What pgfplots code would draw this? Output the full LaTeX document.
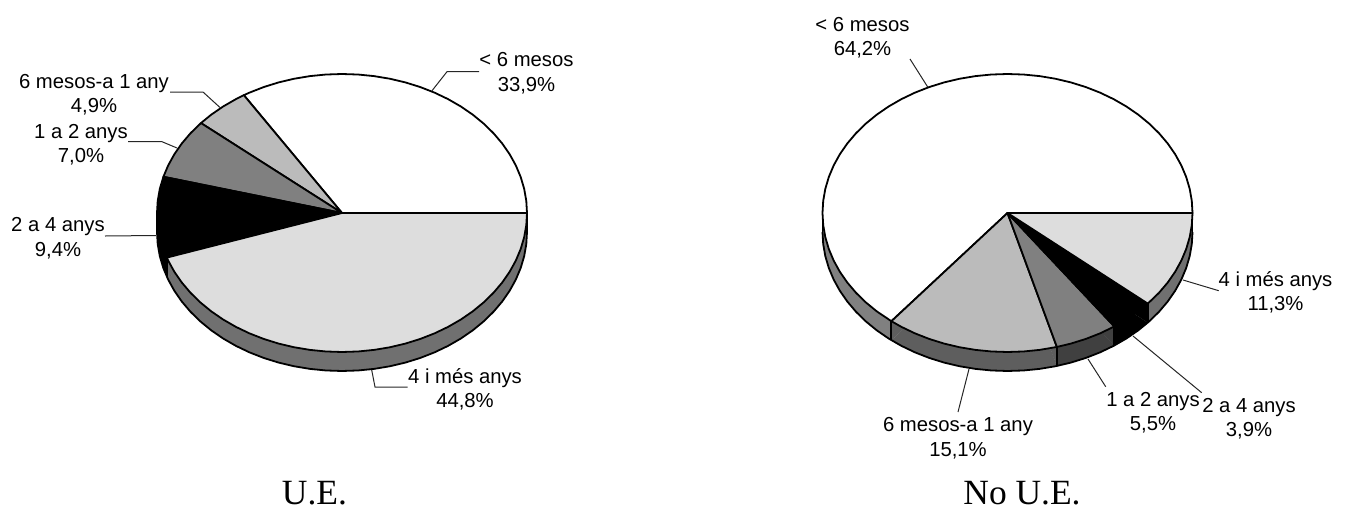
\documentclass[border=0pt]{standalone}
\usepackage{fontspec}
\setmainfont{Liberation Sans}
\newfontfamily\titlefont{Liberation Serif}
\usepackage{pgfplots}
\pgfplotsset{compat=1.18}

\definecolor{slA}{HTML}{FFFFFF}
\definecolor{slB}{HTML}{BBBBBB}
\definecolor{slC}{HTML}{808080}
\definecolor{slD}{HTML}{000000}
\definecolor{slE}{HTML}{DDDDDD}
\definecolor{rimA}{HTML}{808080}
\definecolor{rimB}{HTML}{5E5E5E}
\definecolor{rimC}{HTML}{404040}
\definecolor{rimE}{HTML}{707070}

% all sizes in reference pixels
\newlength{\px}
\setlength{\px}{0.75pt}

\pgfplotsset{
  pie/.style={
    scale only axis, hide axis, clip=false,
    anchor=south west,
    width=370\px, height=278\px,
    xmin=-1, xmax=1, ymin=-1, ymax=1,
  },
  top/.style={draw=black, line width=1.8\px, line join=round, data cs=polar},
  rimsec/.style={draw=none, data cs=polar, yshift=-19\px},
  rimpar/.style={draw=none},
  edge/.style={draw=black, line width=1.8\px},
  arcline/.style={draw=black, line width=1.8\px, data cs=polar, yshift=-19\px},
  leader/.style={draw=black!85, line width=1\px},
}
\newcommand{\lab}[3]{\node[anchor=base, inner sep=0pt, font=\fontsize{15.2}{18}\selectfont] at (axis cs:#1,#2) {#3};}
\newcommand{\ttl}[3]{\node[anchor=base, inner sep=0pt, font=\titlefont\fontsize{26.6}{30}\selectfont] at (axis cs:#1,#2) {#3};}

\begin{document}
\begin{tikzpicture}
\useasboundingbox (0,0) rectangle (1346\px,508\px);

% U.E.: centre 342,213
\begin{axis}[pie, at={(157\px,156\px)}]
% rim
\addplot[rimsec, fill=slD] coordinates {(0,0) (180,1) (185,1) (190,1) (195,1) (198.72,1)} -- cycle;
\addplot[rimpar, fill=slD] coordinates {(0,0) (-1,0) (-1,-0.1367) (0,-0.1367)} -- cycle;
\addplot[rimsec, fill=rimE] coordinates {(0,0) (198.72,1) (200,1) (205,1) (210,1) (215,1) (220,1) (225,1) (230,1) (235,1) (240,1) (245,1) (250,1) (255,1) (260,1) (265,1) (270,1) (275,1) (280,1) (285,1) (290,1) (295,1) (300,1) (305,1) (310,1) (315,1) (320,1) (325,1) (330,1) (335,1) (340,1) (345,1) (350,1) (355,1) (360,1)} -- cycle;
\addplot[rimpar, fill=rimE] coordinates {(0,0) (1,0) (1,-0.1367) (0,-0.1367)} -- cycle;
\addplot[rimpar, fill=rimE] coordinates {(0,0) (-0.9471,-0.3209) (-0.9471,-0.4576) (0,-0.1367)} -- cycle;
\addplot[arcline] coordinates {(180,1) (185,1) (190,1) (195,1) (200,1) (205,1) (210,1) (215,1) (220,1) (225,1) (230,1) (235,1) (240,1) (245,1) (250,1) (255,1) (260,1) (265,1) (270,1) (275,1) (280,1) (285,1) (290,1) (295,1) (300,1) (305,1) (310,1) (315,1) (320,1) (325,1) (330,1) (335,1) (340,1) (345,1) (350,1) (355,1) (360,1)};
\addplot[edge] coordinates {(-1,0) (-1,-0.1367)};
\addplot[edge] coordinates {(-0.9471,-0.3209) (-0.9471,-0.4576)};
\addplot[edge] coordinates {(1,0) (1,-0.1367)};
% top: < 6 mesos 33.9, 6 mesos-a 1 any 4.9, 1 a 2 anys 7.0, 2 a 4 anys 9.4, 4 i mes anys 44.8
\addplot[top, fill=slA] coordinates {(0,0) (0,1) (5,1) (10,1) (15,1) (20,1) (25,1) (30,1) (35,1) (40,1) (45,1) (50,1) (55,1) (60,1) (65,1) (70,1) (75,1) (80,1) (85,1) (90,1) (95,1) (100,1) (105,1) (110,1) (115,1) (120,1) (122.04,1)} -- cycle;
\addplot[top, fill=slB] coordinates {(0,0) (122.04,1) (125,1) (130,1) (135,1) (139.68,1)} -- cycle;
\addplot[top, fill=slC] coordinates {(0,0) (139.68,1) (145,1) (150,1) (155,1) (160,1) (164.88,1)} -- cycle;
\addplot[top, fill=slD] coordinates {(0,0) (164.88,1) (170,1) (175,1) (180,1) (185,1) (190,1) (195,1) (198.72,1)} -- cycle;
\addplot[top, fill=slE] coordinates {(0,0) (198.72,1) (200,1) (205,1) (210,1) (215,1) (220,1) (225,1) (230,1) (235,1) (240,1) (245,1) (250,1) (255,1) (260,1) (265,1) (270,1) (275,1) (280,1) (285,1) (290,1) (295,1) (300,1) (305,1) (310,1) (315,1) (320,1) (325,1) (330,1) (335,1) (340,1) (345,1) (350,1) (355,1) (360,1)} -- cycle;
\end{axis}

% No U.E.: centre 1007.5,213
\begin{axis}[pie, at={(822.5\px,156\px)}]
% rim, outer slices first
\addplot[rimsec, fill=rimE] coordinates {(0,0) (319.32,1) (325,1) (330,1) (335,1) (340,1) (345,1) (350,1) (355,1) (360,1)} -- cycle;
\addplot[rimpar, fill=rimE] coordinates {(0,0) (1,0) (1,-0.1367) (0,-0.1367)} -- cycle;
\addplot[rimsec, fill=slD] coordinates {(0,0) (305.28,1) (310,1) (315,1) (319.32,1)} -- cycle;
\addplot[rimpar, fill=slD] coordinates {(0,0) (0.7584,-0.6518) (0.7584,-0.7885) (0,-0.1367)} -- cycle;
\addplot[rimsec, fill=rimC] coordinates {(0,0) (285.48,1) (290,1) (295,1) (300,1) (305.28,1)} -- cycle;
\addplot[rimpar, fill=rimC] coordinates {(0,0) (0.5775,-0.8164) (0.5775,-0.9531) (0,-0.1367)} -- cycle;
\addplot[rimsec, fill=rimA] coordinates {(0,0) (180,1) (185,1) (190,1) (195,1) (200,1) (205,1) (210,1) (215,1) (220,1) (225,1) (231.12,1)} -- cycle;
\addplot[rimpar, fill=rimA] coordinates {(0,0) (-1,0) (-1,-0.1367) (0,-0.1367)} -- cycle;
\addplot[rimsec, fill=rimB] coordinates {(0,0) (231.12,1) (235,1) (240,1) (245,1) (250,1) (255,1) (260,1) (265,1) (270,1) (275,1) (280,1) (285.48,1)} -- cycle;
\addplot[rimpar, fill=rimB] coordinates {(0,0) (-0.6280,-0.7782) (-0.6280,-0.9149) (0,-0.1367)} -- cycle;
\addplot[rimpar, fill=rimB] coordinates {(0,0) (0.2669,-0.9637) (0.2669,-1.1004) (0,-0.1367)} -- cycle;
\addplot[arcline] coordinates {(180,1) (185,1) (190,1) (195,1) (200,1) (205,1) (210,1) (215,1) (220,1) (225,1) (230,1) (235,1) (240,1) (245,1) (250,1) (255,1) (260,1) (265,1) (270,1) (275,1) (280,1) (285,1) (290,1) (295,1) (300,1) (305,1) (310,1) (315,1) (320,1) (325,1) (330,1) (335,1) (340,1) (345,1) (350,1) (355,1) (360,1)};
\addplot[edge] coordinates {(-1,0) (-1,-0.1367)};
\addplot[edge] coordinates {(-0.6280,-0.7782) (-0.6280,-0.9149)};
\addplot[edge] coordinates {(0.2669,-0.9637) (0.2669,-1.1004)};
\addplot[edge] coordinates {(0.5775,-0.8164) (0.5775,-0.9531)};
\addplot[edge] coordinates {(0.7584,-0.6518) (0.7584,-0.7885)};
\addplot[edge] coordinates {(1,0) (1,-0.1367)};
% top: < 6 mesos 64.2, 6 mesos-a 1 any 15.1, 1 a 2 anys 5.5, 2 a 4 anys 3.9, 4 i mes anys 11.3
\addplot[top, fill=slA] coordinates {(0,0) (0,1) (5,1) (10,1) (15,1) (20,1) (25,1) (30,1) (35,1) (40,1) (45,1) (50,1) (55,1) (60,1) (65,1) (70,1) (75,1) (80,1) (85,1) (90,1) (95,1) (100,1) (105,1) (110,1) (115,1) (120,1) (125,1) (130,1) (135,1) (140,1) (145,1) (150,1) (155,1) (160,1) (165,1) (170,1) (175,1) (180,1) (185,1) (190,1) (195,1) (200,1) (205,1) (210,1) (215,1) (220,1) (225,1) (231.12,1)} -- cycle;
\addplot[top, fill=slB] coordinates {(0,0) (231.12,1) (235,1) (240,1) (245,1) (250,1) (255,1) (260,1) (265,1) (270,1) (275,1) (280,1) (285.48,1)} -- cycle;
\addplot[top, fill=slC] coordinates {(0,0) (285.48,1) (290,1) (295,1) (300,1) (305.28,1)} -- cycle;
\addplot[top, fill=slD] coordinates {(0,0) (305.28,1) (310,1) (315,1) (319.32,1)} -- cycle;
\addplot[top, fill=slE] coordinates {(0,0) (319.32,1) (325,1) (330,1) (335,1) (340,1) (345,1) (350,1) (355,1) (360,1)} -- cycle;
\end{axis}

% labels and leader lines, in pixel coordinates of the page
\begin{axis}[
  scale only axis, hide axis, clip=false,
  anchor=south west, at={(0,0)},
  width=1346\px, height=508\px,
  xmin=0, xmax=1346, ymin=0, ymax=508, y dir=reverse,
]
\addplot[leader] coordinates {(479,71.7) (447,71.7) (432,90.7)};
\addplot[leader] coordinates {(170,92) (203,92) (220,107.5)};
\addplot[leader] coordinates {(128,141.7) (162,141.7) (177,148)};
\addplot[leader] coordinates {(105,236) (156,235.5)};
\addplot[leader] coordinates {(407.7,387) (375,387) (371.7,370)};

\addplot[leader] coordinates {(910,59) (927.7,87)};
\addplot[leader] coordinates {(1183,280) (1218.7,290.7)};
\addplot[leader] coordinates {(1133,336) (1201.7,392.7)};
\addplot[leader] coordinates {(1088,359) (1105.7,386.7)};
\addplot[leader] coordinates {(969,369) (958,412)};

\lab{526.5}{66.7}{< 6 mesos}
\lab{526.5}{91.7}{33,9\%}
\lab{94}{88.7}{6 mesos-a 1 any}
\lab{94}{112.3}{4,9\%}
\lab{81}{138.3}{1 a 2 anys}
\lab{81}{162.3}{7,0\%}
\lab{58}{231.7}{2 a 4 anys}
\lab{58}{256.7}{9,4\%}
\lab{465}{383}{4 i més anys}
\lab{465}{407}{44,8\%}

\lab{862.5}{31.7}{< 6 mesos}
\lab{862.5}{55.7}{64,2\%}
\lab{1275.5}{286}{4 i més anys}
\lab{1275.5}{310.7}{11,3\%}
\lab{1249}{412.7}{2 a 4 anys}
\lab{1249}{436.7}{3,9\%}
\lab{1153}{406}{1 a 2 anys}
\lab{1153}{430.7}{5,5\%}
\lab{958}{431.7}{6 mesos-a 1 any}
\lab{958}{456}{15,1\%}

\ttl{314.5}{504}{U.E.}
\ttl{1022}{504}{No U.E.}
\end{axis}
\end{tikzpicture}
\end{document}
